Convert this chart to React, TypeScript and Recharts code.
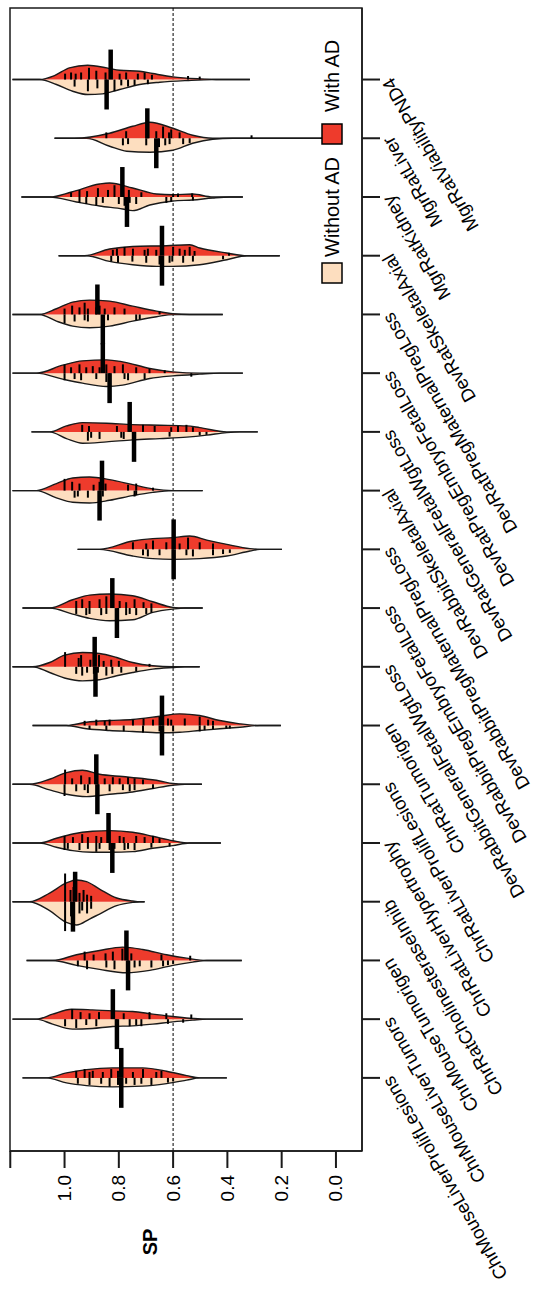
import React from "react";
import { ScatterChart, Scatter, XAxis, YAxis, ReferenceLine, ReferenceArea } from "recharts";

const categories = [
  "ChrMouseLiverProlifLesions", "ChrMouseLiverTumors", "ChrMouseTumorigen", "ChrRatCholinesteraseInhib",
  "ChrRatLiverHypertrophy", "ChrRatLiverProlifLesions", "ChrRatTumorigen", "DevRabbitGeneralFetalWgtLoss",
  "DevRabbitPregEmbryoFetalLoss", "DevRabbitPregMaternalPregLoss", "DevRabbitSkeletalAxial",
  "DevRatGeneralFetalWgtLoss", "DevRatPregEmbryoFetalLoss", "DevRatPregMaternalPregLoss",
  "DevRatSkeletalAxial", "MgrRatKidney", "MgrRatLiver", "MgrRatViabilityPND4",
];

const seriesNames = ["Without AD", "With AD"];
const seriesColors = ["#FDDEBF", "#EE3B2C"];

const xTicks = [0, 0.2, 0.4, 0.6, 0.8, 1.0, 1.2];
const xTickLabels = ["0.0", "0.2", "0.4", "0.6", "0.8", "1.0", ""];
const xDomain = [-0.096, 1.201];
const yDomain = [-0.245, 19.218];
const threshold = 0.6;
const medianLength = 0.51;

// [SP, half-width in category units]  (With AD side)
const withADDensity = [
  [[1.155,0],[1.066,0],[0.993,0.085],[0.919,0.141],[0.823,0.170],[0.712,0.170],[0.624,0.114],[0.550,0.039],[0.502,0],[0.402,0]],
  [[1.192,0],[1.103,0],[1.044,0.085],[0.974,0.170],[0.897,0.158],[0.823,0.141],[0.749,0.131],[0.675,0.085],[0.601,0.046],[0.528,0.012],[0.476,0],[0.343,0]],
  [[1.140,0],[1.044,0],[0.956,0.097],[0.871,0.170],[0.786,0.227],[0.712,0.187],[0.624,0.097],[0.550,0.039],[0.476,0],[0.347,0]],
  [[1.192,0],[1.129,0],[1.055,0.148],[0.993,0.319],[0.956,0.370],[0.919,0.341],[0.871,0.216],[0.808,0.063],[0.749,0.012],[0.723,0],[0.705,0]],
  [[1.192,0],[1.092,0],[1.030,0.080],[0.970,0.153],[0.897,0.199],[0.834,0.210],[0.749,0.182],[0.675,0.114],[0.601,0.039],[0.539,0],[0.424,0]],
  [[1.192,0],[1.129,0],[1.055,0.085],[0.993,0.199],[0.934,0.239],[0.871,0.170],[0.786,0.131],[0.712,0.097],[0.649,0.056],[0.601,0.012],[0.557,0],[0.494,0]],
  [[1.118,0],[0.993,0],[0.919,0.056],[0.834,0.085],[0.749,0.102],[0.649,0.158],[0.576,0.199],[0.502,0.170],[0.428,0.085],[0.354,0.029],[0.280,0],[0.203,0]],
  [[1.192,0],[1.118,0],[1.055,0.073],[1.000,0.199],[0.934,0.244],[0.871,0.227],[0.808,0.158],[0.749,0.073],[0.675,0.017],[0.601,0],[0.502,0]],
  [[1.155,0],[1.055,0],[0.970,0.141],[0.908,0.221],[0.834,0.239],[0.749,0.210],[0.675,0.107],[0.601,0.012],[0.557,0],[0.491,0]],
  [[0.952,0],[0.871,0],[0.749,0.141],[0.675,0.182],[0.601,0.199],[0.539,0.227],[0.476,0.158],[0.402,0.085],[0.317,0.012],[0.280,0],[0.199,0]],
  [[1.192,0],[1.103,0],[1.030,0.119],[0.970,0.216],[0.908,0.233],[0.834,0.187],[0.749,0.102],[0.675,0.029],[0.601,0],[0.491,0]],
  [[1.122,0],[1.055,0],[0.993,0.102],[0.934,0.158],[0.845,0.148],[0.749,0.124],[0.649,0.114],[0.550,0.102],[0.502,0.073],[0.402,0],[0.288,0]],
  [[1.192,0],[1.103,0],[1.007,0.136],[0.934,0.210],[0.845,0.227],[0.786,0.193],[0.686,0.080],[0.601,0.022],[0.502,0],[0.343,0]],
  [[1.192,0],[1.092,0],[1.030,0.097],[0.970,0.210],[0.908,0.244],[0.834,0.227],[0.749,0.141],[0.661,0.056],[0.601,0.012],[0.539,0],[0.417,0]],
  [[1.022,0],[0.926,0],[0.834,0.114],[0.749,0.158],[0.624,0.170],[0.539,0.187],[0.502,0.131],[0.402,0.046],[0.328,0],[0.207,0]],
  [[1.159,0],[1.055,0],[0.974,0.085],[0.871,0.221],[0.834,0.239],[0.749,0.153],[0.661,0.051],[0.601,0.039],[0.528,0.051],[0.454,0],[0.343,0]],
  [[1.037,0],[0.963,0],[0.834,0.085],[0.749,0.204],[0.686,0.273],[0.601,0.170],[0.528,0.051],[0.454,0],[0.022,0]],
  [[1.192,0],[1.092,0],[1.037,0.068],[0.982,0.199],[0.915,0.244],[0.845,0.199],[0.797,0.158],[0.723,0.141],[0.675,0.102],[0.601,0.046],[0.502,0.012],[0.428,0],[0.317,0]],
];

// [SP, half-width in category units]  (Without AD side)
const withoutADDensity = [
  [[1.155,0],[1.066,0],[0.993,0.085],[0.919,0.131],[0.823,0.153],[0.712,0.141],[0.624,0.097],[0.550,0.039],[0.502,0],[0.402,0]],
  [[1.192,0],[1.103,0],[1.044,0.085],[0.970,0.170],[0.897,0.158],[0.823,0.124],[0.749,0.114],[0.675,0.085],[0.601,0.046],[0.528,0.017],[0.476,0],[0.343,0]],
  [[1.140,0],[1.044,0],[0.956,0.085],[0.871,0.153],[0.771,0.210],[0.686,0.170],[0.601,0.085],[0.528,0.029],[0.476,0],[0.347,0]],
  [[1.192,0],[1.129,0],[1.055,0.153],[0.993,0.353],[0.956,0.397],[0.908,0.295],[0.871,0.210],[0.808,0.068],[0.749,0.012],[0.723,0],[0.705,0]],
  [[1.192,0],[1.092,0],[1.030,0.073],[0.970,0.131],[0.897,0.158],[0.834,0.158],[0.749,0.148],[0.675,0.090],[0.601,0.046],[0.539,0],[0.424,0]],
  [[1.192,0],[1.129,0],[1.055,0.097],[0.993,0.170],[0.919,0.210],[0.834,0.170],[0.749,0.131],[0.675,0.073],[0.601,0.017],[0.557,0],[0.494,0]],
  [[1.118,0],[0.993,0],[0.919,0.056],[0.834,0.085],[0.749,0.102],[0.649,0.124],[0.576,0.114],[0.502,0.085],[0.428,0.056],[0.354,0.029],[0.280,0],[0.203,0]],
  [[1.192,0],[1.118,0],[1.055,0.097],[0.993,0.199],[0.934,0.239],[0.871,0.221],[0.808,0.153],[0.749,0.097],[0.675,0.039],[0.601,0.012],[0.557,0],[0.502,0]],
  [[1.155,0],[1.055,0],[0.970,0.102],[0.908,0.175],[0.834,0.216],[0.749,0.199],[0.675,0.073],[0.601,0.017],[0.557,0],[0.491,0]],
  [[0.952,0],[0.871,0],[0.749,0.114],[0.675,0.158],[0.601,0.170],[0.502,0.158],[0.402,0.114],[0.317,0.029],[0.280,0],[0.199,0]],
  [[1.192,0],[1.103,0],[1.030,0.124],[0.970,0.199],[0.908,0.210],[0.834,0.165],[0.749,0.085],[0.675,0.029],[0.601,0],[0.491,0]],
  [[1.122,0],[1.055,0],[0.993,0.114],[0.934,0.193],[0.845,0.170],[0.749,0.136],[0.649,0.114],[0.550,0.090],[0.476,0.056],[0.402,0.012],[0.354,0],[0.288,0]],
  [[1.192,0],[1.103,0],[1.007,0.102],[0.934,0.170],[0.845,0.227],[0.786,0.204],[0.686,0.090],[0.601,0.046],[0.502,0.017],[0.428,0],[0.343,0]],
  [[1.192,0],[1.092,0],[1.030,0.114],[0.970,0.199],[0.908,0.227],[0.834,0.199],[0.749,0.114],[0.661,0.039],[0.601,0],[0.417,0]],
  [[1.022,0],[0.919,0],[0.834,0.097],[0.749,0.153],[0.661,0.182],[0.601,0.182],[0.502,0.153],[0.402,0.068],[0.328,0],[0.207,0]],
  [[1.159,0],[1.055,0],[0.956,0.085],[0.871,0.153],[0.786,0.204],[0.749,0.233],[0.686,0.136],[0.601,0.068],[0.528,0.051],[0.454,0.017],[0.391,0],[0.343,0]],
  [[1.037,0],[0.919,0],[0.834,0.136],[0.771,0.221],[0.686,0.239],[0.601,0.204],[0.528,0.085],[0.454,0.017],[0.380,0],[0.022,0]],
  [[1.192,0],[1.092,0],[1.030,0.085],[0.970,0.199],[0.915,0.256],[0.860,0.244],[0.797,0.170],[0.723,0.085],[0.649,0.046],[0.550,0.017],[0.454,0],[0.317,0]],
];

// individual study values [SP, bean-line length]
const withADLines = [
  [[0.957,0.12],[0.926,0.15],[0.908,0.1],[0.896,0.12],[0.859,0.1],[0.828,0.15],[0.803,0.12],[0.748,0.1],[0.711,0.15],[0.662,0.1],[0.643,0.12]],
  [[0.972,0.17],[0.941,0.12],[0.908,0.1],[0.873,0.12],[0.782,0.1],[0.687,0.12],[0.625,0.1],[0.533,0.08]],
  [[0.926,0.15],[0.893,0.1],[0.849,0.12],[0.822,0.15],[0.787,0.2],[0.754,0.12],[0.643,0.1],[0.537,0.08]],
  [[0.998,0.48],[0.978,0.2],[0.967,0.25],[0.945,0.15],[0.930,0.2],[0.917,0.12],[0.902,0.1]],
  [[1.000,0.12],[0.969,0.1],[0.935,0.15],[0.914,0.1],[0.883,0.12],[0.865,0.1],[0.834,0.2],[0.797,0.12],[0.782,0.1],[0.736,0.12],[0.705,0.1],[0.674,0.12],[0.650,0.08]],
  [[0.998,0.25],[0.972,0.1],[0.939,0.15],[0.908,0.12],[0.883,0.2],[0.852,0.1],[0.822,0.12],[0.797,0.1],[0.766,0.12],[0.742,0.1],[0.711,0.08]],
  [[0.926,0.08],[0.883,0.1],[0.852,0.08],[0.834,0.1],[0.748,0.1],[0.709,0.12],[0.674,0.1],[0.650,0.15],[0.619,0.12],[0.607,0.1],[0.557,0.12],[0.502,0.15],[0.471,0.1],[0.453,0.08]],
  [[0.998,0.25],[0.948,0.15],[0.939,0.2],[0.905,0.12],[0.873,0.2],[0.856,0.1],[0.828,0.12],[0.800,0.1],[0.687,0.05]],
  [[0.957,0.12],[0.935,0.15],[0.908,0.12],[0.871,0.15],[0.846,0.2],[0.797,0.12],[0.773,0.1],[0.742,0.15],[0.709,0.1],[0.680,0.08]],
  [[0.748,0.12],[0.699,0.1],[0.674,0.15],[0.625,0.12],[0.576,0.1],[0.545,0.2],[0.502,0.12],[0.453,0.1]],
  [[1.000,0.2],[0.972,0.15],[0.945,0.12],[0.893,0.1],[0.871,0.15],[0.849,0.12],[0.766,0.1],[0.736,0.12],[0.674,0.05]],
  [[0.935,0.12],[0.910,0.1],[0.807,0.1],[0.760,0.12],[0.711,0.12],[0.668,0.1],[0.607,0.08],[0.582,0.1],[0.551,0.12],[0.527,0.08]],
  [[1.000,0.15],[0.976,0.1],[0.945,0.15],[0.920,0.1],[0.896,0.12],[0.871,0.1],[0.846,0.15],[0.816,0.12],[0.785,0.15],[0.736,0.1],[0.687,0.08],[0.631,0.05]],
  [[1.000,0.1],[0.972,0.15],[0.945,0.12],[0.926,0.2],[0.914,0.1],[0.883,0.12],[0.871,0.15],[0.852,0.1],[0.816,0.12],[0.779,0.1],[0.650,0.05]],
  [[0.822,0.1],[0.807,0.12],[0.779,0.15],[0.748,0.12],[0.705,0.1],[0.693,0.12],[0.662,0.1],[0.600,0.15],[0.576,0.12],[0.557,0.1],[0.539,0.15],[0.521,0.08],[0.394,0.05]],
  [[0.976,0.08],[0.945,0.12],[0.917,0.1],[0.877,0.15],[0.840,0.12],[0.816,0.2],[0.785,0.1],[0.763,0.12],[0.717,0.08],[0.600,0.05],[0.582,0.06],[0.530,0.06]],
  [[0.846,0.1],[0.773,0.12],[0.693,0.15],[0.662,0.12],[0.637,0.2],[0.615,0.1],[0.607,0.15],[0.576,0.1],[0.311,0.05]],
  [[0.998,0.1],[0.976,0.12],[0.959,0.1],[0.939,0.12],[0.910,0.2],[0.883,0.15],[0.849,0.12],[0.797,0.1],[0.773,0.12],[0.730,0.1],[0.705,0.12],[0.678,0.08],[0.545,0.06],[0.502,0.05]],
];

const withoutADLines = [
  [[0.951,0.1],[0.908,0.12],[0.865,0.1],[0.834,0.15],[0.803,0.12],[0.773,0.1],[0.742,0.12],[0.717,0.1],[0.680,0.12],[0.619,0.08],[0.600,0.06]],
  [[0.998,0.12],[0.957,0.15],[0.920,0.1],[0.883,0.12],[0.809,0.1],[0.760,0.12],[0.736,0.1],[0.717,0.12],[0.619,0.08],[0.563,0.06]],
  [[0.951,0.1],[0.917,0.15],[0.846,0.12],[0.816,0.15],[0.766,0.2],[0.742,0.12],[0.723,0.1],[0.680,0.12],[0.637,0.1],[0.619,0.08],[0.600,0.06]],
  [[0.998,0.5],[0.976,0.25],[0.945,0.2],[0.935,0.15],[0.917,0.2],[0.902,0.12]],
  [[1.000,0.12],[0.988,0.1],[0.945,0.12],[0.914,0.1],[0.883,0.15],[0.871,0.1],[0.834,0.12],[0.816,0.1],[0.779,0.12],[0.766,0.1],[0.742,0.12],[0.680,0.08],[0.613,0.06]],
  [[1.000,0.2],[0.957,0.12],[0.926,0.1],[0.914,0.15],[0.877,0.2],[0.834,0.12],[0.785,0.1],[0.760,0.12],[0.742,0.1],[0.674,0.08]],
  [[0.908,0.06],[0.846,0.08],[0.782,0.1],[0.711,0.12],[0.650,0.1],[0.637,0.15],[0.600,0.1],[0.502,0.1],[0.484,0.08],[0.453,0.06],[0.404,0.05],[0.391,0.05]],
  [[0.957,0.12],[0.935,0.15],[0.917,0.1],[0.892,0.12],[0.877,0.1],[0.846,0.15],[0.824,0.12],[0.791,0.1],[0.736,0.08]],
  [[0.957,0.1],[0.920,0.12],[0.908,0.1],[0.865,0.12],[0.846,0.1],[0.803,0.15],[0.773,0.12],[0.760,0.1],[0.736,0.12],[0.699,0.1],[0.680,0.08]],
  [[0.711,0.1],[0.693,0.12],[0.650,0.1],[0.600,0.12],[0.551,0.1],[0.527,0.12],[0.453,0.1],[0.416,0.08],[0.391,0.06]],
  [[0.963,0.12],[0.951,0.1],[0.914,0.12],[0.871,0.15],[0.859,0.1],[0.742,0.1],[0.736,0.08]],
  [[0.914,0.15],[0.902,0.1],[0.871,0.12],[0.791,0.1],[0.782,0.12],[0.742,0.1],[0.613,0.08],[0.502,0.06],[0.477,0.05]],
  [[1.000,0.12],[0.963,0.1],[0.939,0.12],[0.883,0.1],[0.846,0.15],[0.834,0.12],[0.779,0.1],[0.766,0.12],[0.705,0.1],[0.533,0.06]],
  [[1.000,0.15],[0.963,0.12],[0.926,0.1],[0.914,0.12],[0.840,0.1],[0.736,0.1],[0.723,0.08]],
  [[0.828,0.1],[0.803,0.12],[0.750,0.1],[0.699,0.12],[0.650,0.15],[0.613,0.12],[0.603,0.1],[0.563,0.12],[0.527,0.1],[0.416,0.06]],
  [[0.945,0.1],[0.920,0.12],[0.883,0.15],[0.859,0.1],[0.800,0.12],[0.779,0.15],[0.760,0.1],[0.736,0.12],[0.625,0.1],[0.607,0.08],[0.527,0.06]],
  [[0.785,0.12],[0.766,0.1],[0.699,0.12],[0.652,0.15],[0.629,0.12],[0.613,0.1],[0.563,0.1],[0.539,0.08]],
  [[0.963,0.12],[0.914,0.2],[0.879,0.15],[0.846,0.12],[0.816,0.2],[0.791,0.1],[0.766,0.12],[0.742,0.1],[0.693,0.08]],
];

const withADMedian = [0.791, 0.822, 0.772, 0.961, 0.838, 0.883, 0.641, 0.889, 0.824, 0.598, 0.862, 0.760, 0.859, 0.879, 0.641, 0.787, 0.695, 0.830];
const withoutADMedian = [0.791, 0.807, 0.766, 0.969, 0.824, 0.879, 0.641, 0.886, 0.807, 0.598, 0.871, 0.744, 0.834, 0.859, 0.641, 0.770, 0.662, 0.845];

const FONT = "'Liberation Sans', Arial, Helvetica, sans-serif";
const INK = "#1a1a1a";

const yTicks = categories.map((_, i) => i + 1);

const withADBeans = withADDensity.map((prof, i) => prof.map(([x, w]) => ({ x, y: i + 1 + w })));
const withoutADBeans = withoutADDensity.map((prof, i) => prof.map(([x, w]) => ({ x, y: i + 1 - w })));
// each bean line is a pair of points: start on the centre line, end at +/- length
const withADTickPairs = withADLines.flatMap((arr, i) => arr.flatMap(([x, len]) => [{ x, y: i + 1 }, { x, y: i + 1 + len }]));
const withoutADTickPairs = withoutADLines.flatMap((arr, i) => arr.flatMap(([x, len]) => [{ x, y: i + 1 }, { x, y: i + 1 - len }]));
const withADMedianPairs = withADMedian.flatMap((x, i) => [{ x, y: i + 1 }, { x, y: i + 1 + medianLength }]);
const withoutADMedianPairs = withoutADMedian.flatMap((x, i) => [{ x, y: i + 1 }, { x, y: i + 1 - medianLength }]);

const Empty = () => <g />;

const segmentRenderer = (strokeWidth: number) => (props: any) => {
  const pts = props.points || [];
  const segs = [];
  for (let k = 0; k + 1 < pts.length; k += 2) {
    segs.push(
      <line key={k} x1={pts[k].x} y1={pts[k].y} x2={pts[k + 1].x} y2={pts[k + 1].y}
        stroke="#000" strokeWidth={strokeWidth} />
    );
  }
  return <g>{segs}</g>;
};
const thinSegments = segmentRenderer(2);
const thickSegments = segmentRenderer(4.5);

const XTick = (props: any) => {
  const { x, y, payload } = props;
  const idx = xTicks.findIndex((t) => Math.abs(t - payload.value) < 1e-6);
  const label = idx >= 0 ? xTickLabels[idx] : "";
  return (
    <text x={x} y={y} transform={`rotate(-90, ${x}, ${y})`} textAnchor="end" dominantBaseline="central"
      fontSize={19} fontFamily={FONT} fill="#000">{label}</text>
  );
};

const YTick = (props: any) => {
  const { x, y, payload } = props;
  const label = categories[Math.round(payload.value) - 1] ?? "";
  return (
    <text x={x} y={y} transform={`rotate(-120, ${x}, ${y})`} textAnchor="end" dominantBaseline="central"
      fontSize={18.5} fontFamily={FONT} fill="#000">{label}</text>
  );
};

export default function App() {
  return (
    <div style={{ position: "absolute", left: 0, top: 0, width: 534, height: 1295, background: "#fff" }}>
      <ScatterChart width={534} height={1295} margin={{ top: 8, left: 10, right: 112, bottom: 84 }}>
        <XAxis type="number" dataKey="x" domain={xDomain} reversed allowDataOverflow ticks={xTicks} interval={0}
          tickSize={17} tickMargin={7} tick={XTick} height={60}
          axisLine={{ stroke: INK, strokeWidth: 1.5 }} tickLine={{ stroke: INK, strokeWidth: 2 }} />
        <YAxis type="number" dataKey="y" orientation="right" domain={yDomain} allowDataOverflow ticks={yTicks} interval={0}
          tickSize={18} tickMargin={7} tick={YTick} width={60}
          axisLine={{ stroke: INK, strokeWidth: 1.5 }} tickLine={{ stroke: INK, strokeWidth: 2 }} />
        {withoutADBeans.map((d, i) => (
          <Scatter key={`wo${i}`} data={d} isAnimationActive={false} shape={Empty} lineJointType="monotoneX"
            line={{ fill: seriesColors[0], stroke: INK, strokeWidth: 1.4 }} legendType="none" />
        ))}
        {withADBeans.map((d, i) => (
          <Scatter key={`w${i}`} data={d} isAnimationActive={false} shape={Empty} lineJointType="monotoneX"
            line={{ fill: seriesColors[1], stroke: INK, strokeWidth: 1.4 }} legendType="none" />
        ))}
        <Scatter data={withoutADTickPairs} isAnimationActive={false} shape={Empty} line={thinSegments} legendType="none" />
        <Scatter data={withADTickPairs} isAnimationActive={false} shape={Empty} line={thinSegments} legendType="none" />
        <Scatter data={withoutADMedianPairs} isAnimationActive={false} shape={Empty} line={thickSegments} legendType="none" />
        <Scatter data={withADMedianPairs} isAnimationActive={false} shape={Empty} line={thickSegments} legendType="none" />
        <ReferenceLine x={threshold} stroke="#000" strokeWidth={1} strokeDasharray="3 2" />
        <ReferenceArea x1={xDomain[0]} x2={xDomain[1]} y1={yDomain[0]} y2={yDomain[1]} fill="none" fillOpacity={0}
          stroke={INK} strokeWidth={1.5} />
      </ScatterChart>
      <svg width={534} height={1295} style={{ position: "absolute", left: 0, top: 0, pointerEvents: "none" }}>
        <text x={157} y={1242} transform="rotate(-90, 157, 1242)" textAnchor="middle" fontSize={20} fontWeight="bold"
          fontFamily={FONT} fill="#000">SP</text>
        <rect x={322} y={263} width={20} height={20} fill={seriesColors[0]} stroke="#000" strokeWidth={1.5} />
        <text x={339} y={257} transform="rotate(-90, 339, 257)" fontSize={20} fontFamily={FONT} fill="#000">{seriesNames[0]}</text>
        <rect x={322} y={124} width={20} height={20} fill={seriesColors[1]} stroke="#000" strokeWidth={1.5} />
        <text x={339} y={112} transform="rotate(-90, 339, 112)" fontSize={20} fontFamily={FONT} fill="#000">{seriesNames[1]}</text>
      </svg>
    </div>
  );
}
